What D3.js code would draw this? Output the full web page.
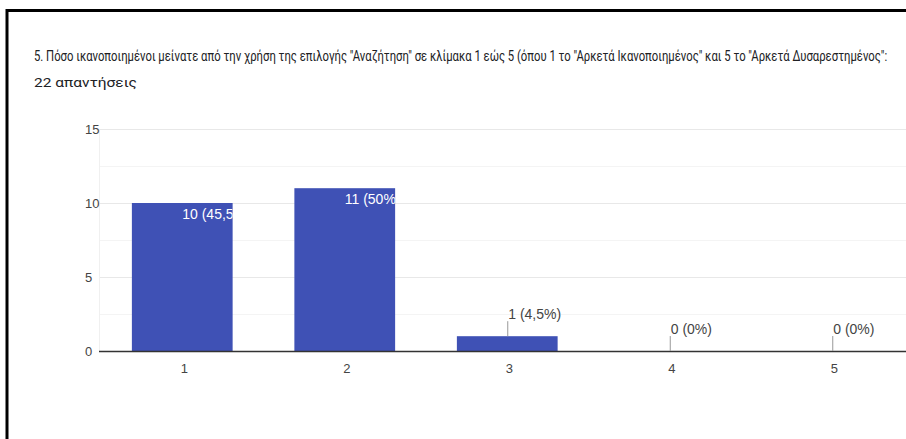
<!DOCTYPE html>
<html>
<head>
<meta charset="utf-8">
<script src="https://cdn.jsdelivr.net/npm/d3@7"></script>
<style>
  html, body { margin: 0; padding: 0; background: #fff; }
  svg { display: block; }
</style>
</head>
<body>
<svg id="chart" width="906" height="439"></svg>
<script>
const titleText = '5. Πόσο ικανοποιημένοι μείνατε από την χρήση της επιλογής "Αναζήτηση" σε κλίμακα 1 εώς 5 (όπου 1 το "Αρκετά Ικανοποιημένος" και 5 το "Αρκετά Δυσαρεστημένος":';
const subtitleText = '22 απαντήσεις';
const categories = ["1", "2", "3", "4", "5"];
const counts = [10, 11, 1, 0, 0];
const percents = ["45,5%", "50%", "4,5%", "0%", "0%"];
const yTicks = [0, 5, 10, 15];
const yMinorTicks = [2.5, 7.5, 12.5];

const svg = d3.select("#chart");
const W = 906, H = 439;

// frame
svg.append("path")
  .attr("d", `M7,${H} L7,10.5 L${W},10.5`)
  .attr("fill", "none").attr("stroke", "#000").attr("stroke-width", 3);

// title (condensed by horizontal scaling)
function fitText(txt, x, yb, size, width) {
  const t = svg.append("text")
    .attr("font-family", "Roboto, 'Noto Sans', sans-serif")
    .attr("font-size", size)
    .attr("fill", "#202124")
    .text(txt);
  const w = t.node().getComputedTextLength();
  t.attr("transform", `translate(${x},${yb}) scale(${width / w},1)`);
  return t;
}
fitText(titleText, 34, 61, 14.5, 854);
fitText(subtitleText, 34, 87, 12.5, 103);

const x0 = 99, xEnd = 913.5;
const y = d3.scaleLinear().domain([0, 15]).range([351, 129]);
const x = d3.scaleBand().domain(categories).range([x0 + 2, xEnd]).paddingInner(0.38).paddingOuter(0.19);

// gridlines
svg.append("g").selectAll("line").data(yMinorTicks).join("line")
  .attr("x1", x0).attr("x2", W)
  .attr("y1", d => Math.round(y(d)) + 0.5).attr("y2", d => Math.round(y(d)) + 0.5)
  .attr("stroke", "#f4f4f4").attr("stroke-width", 1);
svg.append("g").selectAll("line").data(yTicks.filter(d => d > 0)).join("line")
  .attr("x1", x0).attr("x2", W)
  .attr("y1", d => Math.round(y(d)) + 0.5).attr("y2", d => Math.round(y(d)) + 0.5)
  .attr("stroke", "#e8e8e8").attr("stroke-width", 1);
svg.append("line")
  .attr("x1", x0 + 0.5).attr("x2", x0 + 0.5).attr("y1", y(15)).attr("y2", y(0))
  .attr("stroke", "#f0f0f0");

// y tick labels (left-aligned as in the reference)
svg.append("g").selectAll("text").data(yTicks).join("text")
  .attr("x", 85).attr("y", d => y(d) + 5)
  .attr("font-family", "Arial, 'Liberation Sans', sans-serif")
  .attr("font-size", 13).attr("fill", "#444")
  .text(d => d);

// bars
const data = categories.map((c, i) => ({ c, v: counts[i], p: percents[i], i }));
const defs = svg.append("defs");
data.forEach(d => {
  defs.append("clipPath").attr("id", "clip" + d.i)
    .append("rect")
    .attr("x", x(d.c)).attr("y", y(d.v))
    .attr("width", x.bandwidth()).attr("height", Math.max(0, y(0) - y(d.v)));
});

svg.append("g").selectAll("rect").data(data.filter(d => d.v > 0)).join("rect")
  .attr("x", d => x(d.c)).attr("y", d => y(d.v))
  .attr("width", x.bandwidth()).attr("height", d => y(0) - y(d.v))
  .attr("fill", "#3f51b5");

// baseline
svg.append("line")
  .attr("x1", x0).attr("x2", W).attr("y1", y(0) + 0.5).attr("y2", y(0) + 0.5)
  .attr("stroke", "#333").attr("stroke-width", 1.5);

// value labels
data.forEach(d => {
  const cx = x(d.c) + x.bandwidth() / 2;
  const top = y(d.v);
  const label = `${d.v} (${d.p})`;
  if (y(0) - top > 20) {
    svg.append("text")
      .attr("x", cx).attr("y", top + 16)
      .attr("clip-path", `url(#clip${d.i})`)
      .attr("font-family", "Arial, 'Liberation Sans', sans-serif")
      .attr("font-size", 14).attr("fill", "#fff")
      .text(label);
  } else {
    svg.append("line")
      .attr("x1", cx + 0.5).attr("x2", cx + 0.5)
      .attr("y1", top).attr("y2", top - 15)
      .attr("stroke", "#999").attr("stroke-width", 1);
    svg.append("text")
      .attr("x", cx + 1).attr("y", top - 17)
      .attr("font-family", "Arial, 'Liberation Sans', sans-serif")
      .attr("font-size", 14).attr("fill", "#444")
      .text(label);
  }
});

// x tick labels
svg.append("g").selectAll("text").data(categories).join("text")
  .attr("x", d => x(d) + x.bandwidth() / 2 + 2).attr("y", 373)
  .attr("text-anchor", "middle")
  .attr("font-family", "Arial, 'Liberation Sans', sans-serif")
  .attr("font-size", 13).attr("fill", "#444")
  .text(d => d);
</script>
</body>
</html>
